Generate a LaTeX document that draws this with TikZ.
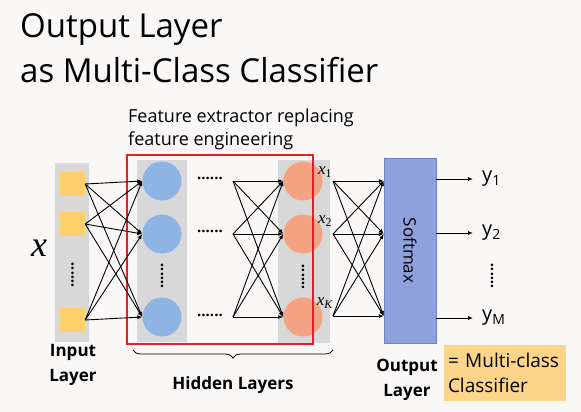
\documentclass[tikz,border=0pt]{standalone}
\usepackage{fontspec}
\setmainfont{Open Sans}
\newfontfamily\serif{Liberation Serif}
\usetikzlibrary{arrows.meta,decorations.pathreplacing}
\definecolor{pagebg}{RGB}{250,247,247}
\definecolor{colgray}{RGB}{216,216,216}
\definecolor{sqyellow}{RGB}{255,208,108}
\definecolor{hidblue}{RGB}{141,180,226}
\definecolor{outorange}{RGB}{244,164,130}
\definecolor{softblue}{RGB}{143,161,220}
\definecolor{softedge}{RGB}{112,130,200}
\definecolor{boxorange}{RGB}{252,213,139}
\definecolor{framered}{RGB}{230,30,40}
\begin{document}
\begin{tikzpicture}[x=1pt,y=-1pt,
    sq/.style={fill=sqyellow,minimum width=25pt,minimum height=24pt,inner sep=0pt},
    hid/.style={circle,fill=hidblue,minimum size=39pt,inner sep=0pt},
    outn/.style={circle,fill=outorange,minimum size=39pt,inner sep=0pt},
    hdots/.style={font=\bfseries\fontsize{15}{15}\selectfont,inner sep=0pt},
    vdots/.style={font=\bfseries\fontsize{15}{15}\selectfont,inner sep=0pt,rotate=90},
    link/.style={-{Latex[length=5pt,width=4pt]},line width=0.9pt},
    ylab/.style={anchor=west,inner xsep=9pt,inner ysep=1pt,font=\fontsize{20}{20}\selectfont},
    lbl/.style={font=\bfseries\fontsize{17}{25}\selectfont,align=center}]
  \fill[pagebg] (0,0) rectangle (581,412);
  \useasboundingbox (0,0) rectangle (581,412);
  \node[anchor=base west,inner sep=0pt,font=\fontsize{33}{33}\selectfont] (t1) at (20,38) {Output Layer};
  \node[anchor=base west,inner sep=0pt,font=\fontsize{33}{33}\selectfont] (t2) at (20,82) {as Multi-Class Classifier};
  \node[anchor=base west,inner sep=0pt,font=\fontsize{18}{18}\selectfont] (f1) at (128,122) {Feature extractor replacing};
  \node[anchor=base west,inner sep=0pt,font=\fontsize{18}{18}\selectfont] (f2) at (128,145) {feature engineering};
  \fill[colgray] (55,163) rectangle (89,342);
  \fill[colgray] (137,160) rectangle (187,342);
  \fill[colgray] (278,160) rectangle (330,343);
  \draw
    (72.5,184) node[sq] (in1){}
    (72.5,224) node[sq] (in2){}
    (72.5,320) node[sq] (in3){}
    (162,181) node[hid] (h1){}
    (162,234) node[hid] (h2){}
    (162,317) node[hid] (h3){}
    (303,181) node[outn] (o1){}
    (303,234) node[outn] (o2){}
    (303,317) node[outn] (o3){};
  \node[vdots] (din) at (72.5,275) {......};
  \node[vdots] (dh) at (162,276) {......};
  \node[vdots] (do) at (303,277) {......};
  \node[hdots] (m1) at (210,178) {......};
  \node[hdots] (m2) at (210,231) {......};
  \node[hdots] (m3) at (210,315) {......};
  \coordinate (c1) at (233,181);
  \coordinate (c2) at (233,234);
  \coordinate (c3) at (233,317);
  \coordinate (r1) at (333,181);
  \coordinate (r2) at (333,234);
  \coordinate (r3) at (333,316);
  \node[font=\serif\itshape\fontsize{36}{36}\selectfont,inner sep=0pt] (xin) at (39,248) {x};
  \node[font=\serif\fontsize{17}{17}\selectfont,inner sep=0pt] (x1) at (325,172) {\textit{x}\textsubscript{1}};
  \node[font=\serif\fontsize{17}{17}\selectfont,inner sep=0pt] (x2) at (325,221) {\textit{x}\textsubscript{2}};
  \node[font=\serif\fontsize{17}{17}\selectfont,inner sep=0pt] (xK) at (325,303) {\textit{x}\textsubscript{\textit{K}}};
  \draw[framered,line width=2pt] (127,155) rectangle (313,344);
  \node[fill=softblue,draw=softedge,minimum width=52pt,minimum height=185pt,inner sep=0pt] (sm) at (410,250.5) {};
  \node[rotate=-90,font=\fontsize{17}{17}\selectfont] (smt) at (sm.center) {Softmax};
  \node[ylab] (y1) at (473,179) {y\textsubscript{1}};
  \node[ylab] (y2) at (473,233) {y\textsubscript{2}};
  \node[ylab] (yM) at (473,318) {y\textsubscript{M}};
  \node[vdots] (dy) at (492,276) {......};
  \begin{scope}[link]
    \draw (in1.east) to (h1.west);
    \draw (in1.east) to (h2.west);
    \draw (in1.east) to (h3.west);
    \draw (in2.east) to (h1.west);
    \draw (in2.east) to (h2.west);
    \draw (in2.east) to (h3.west);
    \draw (in3.east) to (h1.west);
    \draw (in3.east) to (h2.west);
    \draw (in3.east) to (h3.west);
    \draw (c1) to (o1.west);
    \draw (c1) to (o2.west);
    \draw (c1) to (o3.west);
    \draw (c2) to (o1.west);
    \draw (c2) to (o2.west);
    \draw (c2) to (o3.west);
    \draw (c3) to (o1.west);
    \draw (c3) to (o2.west);
    \draw (c3) to (o3.west);
    \draw (r1) to (sm.west |- r1);
    \draw (r1) to (sm.west |- r2);
    \draw (r1) to (sm.west |- r3);
    \draw (r2) to (sm.west |- r1);
    \draw (r2) to (sm.west |- r2);
    \draw (r2) to (sm.west |- r3);
    \draw (r3) to (sm.west |- r1);
    \draw (r3) to (sm.west |- r2);
    \draw (r3) to (sm.west |- r3);
    \draw (sm.east |- y1) to (y1.west);
    \draw (sm.east |- y2) to (y2.west);
    \draw (sm.east |- yM) to (yM.west);
  \end{scope}
  \draw[line width=0.8pt,decorate,decoration={brace,mirror,amplitude=8pt}] (133,350) -- (333,350);
  \node[lbl] (inl) at (73,365) {Input\\Layer};
  \node[lbl] (hidl) at (233,385) {Hidden Layers};
  \node[lbl] (outl) at (407,380) {Output\\Layer};
  \node[fill=boxorange,minimum width=122pt,minimum height=56pt,text width=114pt,align=left,font=\fontsize{19}{25}\selectfont,inner sep=0pt] (cls) at (505,373) {= Multi-class\\Classifier};
\end{tikzpicture}
\end{document}
